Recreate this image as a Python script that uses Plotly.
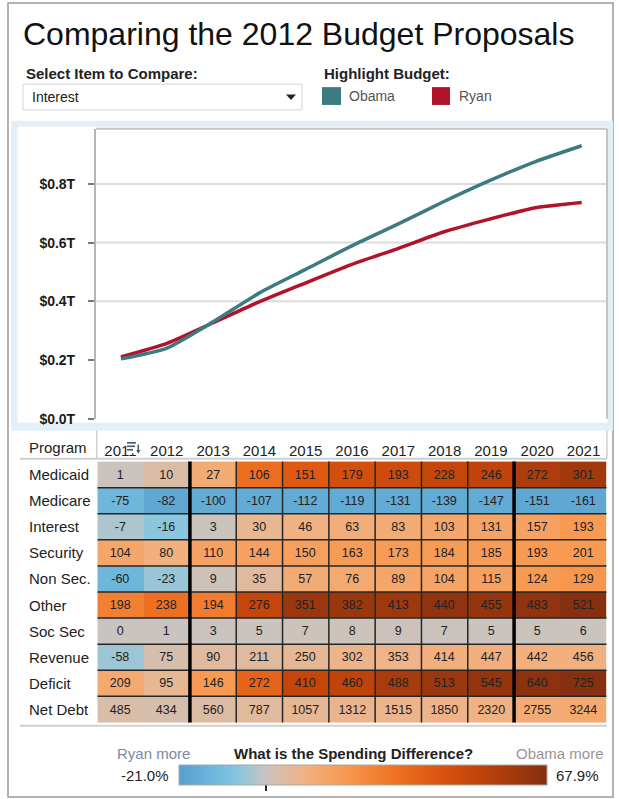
import plotly.graph_objects as go

W, H = 619, 799

# ---------------------------------------------------------------- data
YEARS = [2011, 2012, 2013, 2014, 2015, 2016, 2017, 2018, 2019, 2020, 2021]

# Net interest outlays, $ billions
OBAMA_INTEREST = [204, 241, 330, 428, 508, 588, 662, 739, 811, 876, 930]
RYAN_INTEREST = [211, 257, 327, 398, 462, 525, 579, 636, 680, 719, 737]

Y_TICKS = [0, 200, 400, 600, 800]
Y_TICK_TEXT = ["$0.0T", "$0.2T", "$0.4T", "$0.6T", "$0.8T"]
GRID_VALUES = [400, 600, 800]

PROGRAMS = ["Medicaid", "Medicare", "Interest", "Security", "Non Sec.",
            "Other", "Soc Sec", "Revenue", "Deficit", "Net Debt"]

# Obama minus Ryan, $ billions
DIFF_MEDICAID = [1, 10, 27, 106, 151, 179, 193, 228, 246, 272, 301]
DIFF_MEDICARE = [-75, -82, -100, -107, -112, -119, -131, -139, -147, -151, -161]
DIFF_INTEREST = [-7, -16, 3, 30, 46, 63, 83, 103, 131, 157, 193]
DIFF_SECURITY = [104, 80, 110, 144, 150, 163, 173, 184, 185, 193, 201]
DIFF_NONSEC = [-60, -23, 9, 35, 57, 76, 89, 104, 115, 124, 129]
DIFF_OTHER = [198, 238, 194, 276, 351, 382, 413, 440, 455, 483, 521]
DIFF_SOCSEC = [0, 1, 3, 5, 7, 8, 9, 7, 5, 5, 6]
DIFF_REVENUE = [-58, 75, 90, 211, 250, 302, 353, 414, 447, 442, 456]
DIFF_DEFICIT = [209, 95, 146, 272, 410, 460, 488, 513, 545, 640, 725]
DIFF_NETDEBT = [485, 434, 560, 787, 1057, 1312, 1515, 1850, 2320, 2755, 3244]

# Obama minus Ryan, percent of the Ryan figure
PCT_MEDICAID = [0.5, 4, 12, 33, 40, 45, 47, 50, 52, 57, 60]
PCT_MEDICARE = [-13, -18, -17, -17, -17, -17, -17, -17, -17, -18, -18]
PCT_INTEREST = [-3, -6.5, 0.5, 7, 9, 11, 12, 14, 15, 16, 19]
PCT_SECURITY = [14, 10, 16, 16, 17, 18, 18, 18, 18, 19, 19]
PCT_NONSEC = [-13, -5, 1, 5, 12, 13, 14, 15, 16, 19, 20]
PCT_OTHER = [27, 32, 28, 50, 62, 62, 61, 65, 64, 65, 67.9]
PCT_SOCSEC = [0, 0, 0.3, 0.5, 0.7, 0.7, 0.8, 0.5, 0.4, 0.3, 0.4]
PCT_REVENUE = [-4.5, 3, 5, 5, 6.5, 8, 8.5, 10, 10.5, 10, 10]
PCT_DEFICIT = [13, 7, 19, 36, 50, 52, 58, 62, 64, 66, 67.9]
PCT_NETDEBT = [3.5, 3, 4.5, 5.5, 6.5, 7.5, 8, 8.5, 9, 12, 13]

PCT_MIN, PCT_MAX = -21.0, 67.9

DIFF_ROWS = [DIFF_MEDICAID, DIFF_MEDICARE, DIFF_INTEREST, DIFF_SECURITY, DIFF_NONSEC,
             DIFF_OTHER, DIFF_SOCSEC, DIFF_REVENUE, DIFF_DEFICIT, DIFF_NETDEBT]
PCT_ROWS = [PCT_MEDICAID, PCT_MEDICARE, PCT_INTEREST, PCT_SECURITY, PCT_NONSEC,
            PCT_OTHER, PCT_SOCSEC, PCT_REVENUE, PCT_DEFICIT, PCT_NETDEBT]

# ---------------------------------------------------------------- style
FONT = "Arial, Liberation Sans, sans-serif"
TEXT = "#222222"
OBAMA_COLOR = "#3d7a82"
RYAN_COLOR = "#b1132b"
PANEL_BLUE = "#e3eff7"

DIFF_SCALE = [
    [0.00, "#559fd0"],
    [0.15, "#80c6e2"],
    [0.236, "#c9c4c0"],
    [0.34, "#f1b283"],
    [0.45, "#f89a52"],
    [0.58, "#ef7425"],
    [0.70, "#de5510"],
    [0.82, "#bf430a"],
    [1.00, "#86300f"],
]


def px(x):
    return x / W


def py(y):
    return 1 - y / H


fig = go.Figure()

# ---------------------------------------------------------------- line chart
fig.add_trace(go.Scatter(
    x=YEARS, y=RYAN_INTEREST, name="Ryan", mode="lines",
    line=dict(color=RYAN_COLOR, width=3.5, shape="spline", smoothing=0.6),
    xaxis="x", yaxis="y", showlegend=False, hoverinfo="skip",
))
fig.add_trace(go.Scatter(
    x=YEARS, y=OBAMA_INTEREST, name="Obama", mode="lines",
    line=dict(color=OBAMA_COLOR, width=3.5, shape="spline", smoothing=0.6),
    xaxis="x", yaxis="y", showlegend=False, hoverinfo="skip",
))

# ---------------------------------------------------------------- difference table
fig.add_trace(go.Heatmap(
    x=YEARS, y=PROGRAMS, z=PCT_ROWS, text=DIFF_ROWS,
    texttemplate="%{text}", textfont=dict(family=FONT, size=12.5, color=TEXT),
    colorscale=DIFF_SCALE, zmin=PCT_MIN, zmax=PCT_MAX,
    xaxis="x2", yaxis="y2", hoverinfo="skip",
    colorbar=dict(
        orientation="h", x=px(363), xanchor="center", y=py(773), yanchor="top",
        lenmode="pixels", len=368, thicknessmode="pixels", thickness=20,
        outlinewidth=1, outlinecolor="#a8a8a8", xpad=0, ypad=0,
        tickvals=[0], ticks="outside", ticklen=6, tickwidth=1.5, tickcolor=TEXT,
        showticklabels=False,
    ),
))

shapes = []

# frame and chart panel
shapes.append(dict(type="rect", xref="paper", yref="paper", x0=px(8), x1=px(613),
                   y0=py(805), y1=py(3), line=dict(color="#9a9a9a", width=1.5),
                   fillcolor="rgba(0,0,0,0)", layer="below"))
shapes.append(dict(type="rect", xref="paper", yref="paper", x0=px(11), x1=px(613),
                   y0=py(435), y1=py(122), line=dict(width=0), fillcolor=PANEL_BLUE,
                   layer="below"))
shapes.append(dict(type="rect", xref="paper", yref="paper", x0=px(17.5), x1=px(607.5),
                   y0=py(427), y1=py(128), line=dict(width=0), fillcolor="white",
                   layer="below"))

# dropdown box and arrow
shapes.append(dict(type="rect", xref="paper", yref="paper", x0=px(23), x1=px(302),
                   y0=py(111), y1=py(85), line=dict(color="#d6d6d6", width=1),
                   fillcolor="white", layer="below"))
shapes.append(dict(type="path", xref="paper", yref="paper",
                   path=f"M {px(286)} {py(95.5)} L {px(296)} {py(95.5)} L {px(291)} {py(101)} Z",
                   fillcolor="#222", line=dict(width=0)))

# highlight swatches
shapes.append(dict(type="rect", xref="paper", yref="paper", x0=px(322), x1=px(341),
                   y0=py(106), y1=py(88), fillcolor=OBAMA_COLOR, line=dict(width=0)))
shapes.append(dict(type="rect", xref="paper", yref="paper", x0=px(432), x1=px(450),
                   y0=py(106), y1=py(88), fillcolor=RYAN_COLOR, line=dict(width=0)))

# line chart grid and border
for v in GRID_VALUES:
    shapes.append(dict(type="line", xref="x domain", yref="y", x0=0, x1=1, y0=v, y1=v,
                       line=dict(color="#dcdcdc", width=2), layer="below"))
shapes.append(dict(type="line", xref="x domain", yref="y domain", x0=0, x1=1, y0=1, y1=1,
                   line=dict(color="#c4c4c4", width=2)))
shapes.append(dict(type="line", xref="x domain", yref="y domain", x0=1, x1=1, y0=0, y1=1,
                   line=dict(color="#c4c4c4", width=2)))

# table rules
for i in range(len(PROGRAMS) - 1):
    shapes.append(dict(type="line", xref="x2", yref="y2", x0=YEARS[0] - 0.5,
                       x1=YEARS[-1] + 0.5, y0=i + 0.5, y1=i + 0.5,
                       line=dict(color="#262626", width=1.5)))
for yr in YEARS[2:-3]:
    shapes.append(dict(type="line", xref="x2", yref="y2", x0=yr + 0.5, x1=yr + 0.5,
                       y0=-0.5, y1=len(PROGRAMS) - 0.5, line=dict(color="#262626", width=1.5)))
for yr in (YEARS[1], YEARS[-3]):
    shapes.append(dict(type="line", xref="x2", yref="y2", x0=yr + 0.5, x1=yr + 0.5,
                       y0=-0.5, y1=len(PROGRAMS) - 0.5, line=dict(color="#000", width=3.5)))
shapes.append(dict(type="line", xref="paper", yref="paper", x0=px(20), x1=px(607),
                   y0=py(463.5), y1=py(463.5), line=dict(color="#cfcfcf", width=2)))
shapes.append(dict(type="line", xref="paper", yref="paper", x0=px(20), x1=px(607),
                   y0=py(733), y1=py(733), line=dict(color="#cfcfcf", width=2)))
for xv in (96.7, 607):
    shapes.append(dict(type="line", xref="paper", yref="paper", x0=px(xv), x1=px(xv),
                       y0=py(463.5), y1=py(435), line=dict(color="#cfcfcf", width=1.5)))

# sort icon on the first year heading
ICON = "#46566e"
shapes.append(dict(type="rect", xref="paper", yref="paper", x0=px(128.3), x1=px(140),
                   y0=py(458), y1=py(443), fillcolor="white", line=dict(width=0),
                   layer="above"))
for (a, b, yy) in ((127, 136, 446.5), (127, 135, 450), (127, 133, 453.5)):
    shapes.append(dict(type="rect", xref="paper", yref="paper", x0=px(a), x1=px(b),
                       y0=py(yy + 1.6), y1=py(yy), fillcolor=ICON, line=dict(width=0),
                       layer="above"))
shapes.append(dict(type="line", xref="paper", yref="paper", x0=px(138.3), x1=px(138.3),
                   y0=py(457), y1=py(449), line=dict(color=ICON, width=1.5), layer="above"))
shapes.append(dict(type="path", xref="paper", yref="paper",
                   path=f"M {px(136.2)} {py(454.5)} L {px(140.4)} {py(454.5)} L {px(138.3)} {py(458)} Z",
                   fillcolor=ICON, line=dict(width=0), layer="above"))

annotations = []


def label(text, x, y, size=15, color=TEXT, anchor="left", bold=False, yref="paper", xref="paper"):
    annotations.append(dict(
        text=text, x=x, y=y, xref=xref, yref=yref, xanchor=anchor, yanchor="middle",
        showarrow=False, font=dict(family=FONT, size=size, color=color,
                                   weight="bold" if bold else "normal"),
    ))


label("Comparing the 2012 Budget Proposals", px(21), py(34), size=32, color="#111")
label("Select Item to Compare:", px(24), py(74), bold=True)
label("Interest", px(30), py(98), size=14)
label("Highlight Budget:", px(322), py(74), bold=True)
label("Obama", px(347), py(97), size=14, color="#555")
label("Ryan", px(457), py(97), size=14, color="#555")

label("Program", px(27), py(452))
for prog in PROGRAMS:
    label(prog, px(27), prog, yref="y2")

label("Ryan more", px(153), py(761), color="#7f87a3", anchor="center")
label("What is the Spending Difference?", px(353), py(761), bold=True, anchor="center")
label("Obama more", px(606), py(761), color="#9d9595", anchor="right")
label(f"{PCT_MIN:.1f}%", px(171), py(783), anchor="right")
label(f"{PCT_MAX:.1f}%", px(554), py(783))

fig.update_layout(
    width=W, height=H, autosize=False,
    margin=dict(l=0, r=0, t=0, b=0, pad=0),
    paper_bgcolor="white", plot_bgcolor="rgba(0,0,0,0)",
    font=dict(family=FONT, color=TEXT),
    shapes=shapes, annotations=annotations,
    xaxis=dict(domain=[px(96), px(607)], range=[2010.46, 2021.55], anchor="y",
               showticklabels=False, showgrid=False, zeroline=False, showline=False,
               fixedrange=True),
    yaxis=dict(domain=[py(423), py(130)], range=[0, 988], anchor="x",
               tickvals=Y_TICKS, ticktext=Y_TICK_TEXT, ticks="outside", ticklen=6,
               tickwidth=1.5, tickcolor="#777", showline=True, linecolor="#b5b5b5",
               linewidth=2, showgrid=False, zeroline=False, fixedrange=True,
               ticklabelstandoff=10,
               tickfont=dict(family=FONT, size=14, color="#1a1a1a", weight="bold")),
    xaxis2=dict(domain=[px(97.3), px(606.7)], range=[YEARS[0] - 0.5, YEARS[-1] + 0.5],
                anchor="y2", side="top", tickvals=YEARS, ticks="", showgrid=False,
                zeroline=False, showline=False, fixedrange=True,
                tickfont=dict(family=FONT, size=15, color=TEXT)),
    yaxis2=dict(domain=[py(731.5), py(464.5)], anchor="x2", autorange="reversed",
                showticklabels=False, showgrid=False, zeroline=False, showline=False,
                fixedrange=True),
)

fig.write_html("out.html", config={"displayModeBar": False})
